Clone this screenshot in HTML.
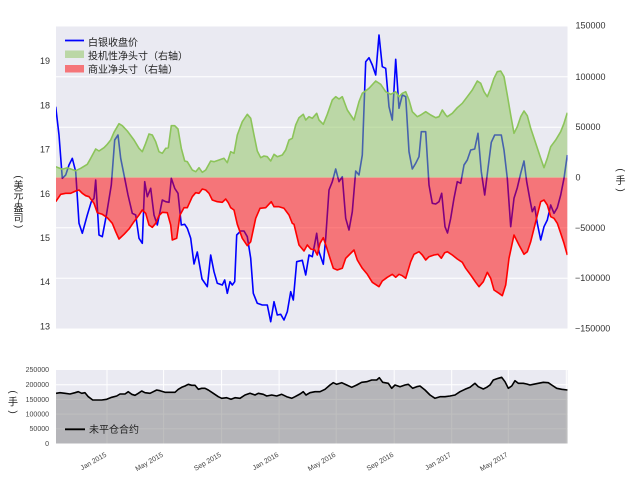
<!DOCTYPE html>
<html>
<head>
<meta charset="utf-8">
<style>
html,body{margin:0;padding:0;background:#fff;}
svg{display:block;}
text{font-family:"Liberation Sans","Noto Sans CJK SC",sans-serif;}
</style>
</head>
<body>
<svg width="640" height="497" viewBox="0 0 640 497" xmlns="http://www.w3.org/2000/svg">
<defs>
<clipPath id="cTop"><rect x="56" y="26.5" width="511.5" height="302"/></clipPath>
<clipPath id="cBot"><rect x="56" y="370" width="511.5" height="73.5"/></clipPath>
</defs>
<rect x="0" y="0" width="640" height="497" fill="#fff"/>

<!-- TOP CHART -->
<rect x="56" y="26.5" width="511.5" height="302" fill="#EAEAF2"/>
<g stroke="#fff" stroke-width="1">
<line x1="56" x2="567.5" y1="76.8" y2="76.8"/>
<line x1="56" x2="567.5" y1="127.2" y2="127.2"/>
<line x1="56" x2="567.5" y1="177.5" y2="177.5"/>
<line x1="56" x2="567.5" y1="227.8" y2="227.8"/>
<line x1="56" x2="567.5" y1="278.2" y2="278.2"/>
</g>
<g clip-path="url(#cTop)">
<!-- blue silver price -->
<polyline fill="none" stroke="#0000ff" stroke-width="1.6" stroke-linejoin="round" points="55.7,106.7 59,135 62.3,178.3 65.7,175 69,165 72.3,158.3 75.7,171.7 79,223.3 82.3,233.3 87.3,215 91.3,201.7 94,198.3 95.7,180 99,235 102.3,236.7 106.7,213.3 111.3,185 114.7,140 118,135 120.7,158.3 124.7,178.3 128,195 132.3,213.3 135.7,215 139,238.3 142.3,243.3 144.7,181.7 147.3,196.7 150.7,188.3 154,215 157.3,225 160,211.7 162.3,200 165.7,201.7 169,202.3 171.3,178.3 174.7,188.3 178,193.3 181.3,225 184.7,224.3 187.3,228.3 190.7,238.3 194,264 197.3,252 202,279 207.3,286.7 210.7,255 214,271.7 217.3,283.3 222.3,285 224.7,280 227.3,293.3 230,281.7 232.3,285 234.7,281.7 236.7,235 240.7,231 244,231 247.3,236.7 250.7,258.3 253.3,293.3 257.3,303.3 262.3,305 267.3,305 270.7,321.7 274,301.7 277.3,315 280.7,314.3 284,320 287.3,311.7 290.7,291.7 293.3,300 296.7,261.7 302.3,260.3 305.7,275 309,255 312.3,256.7 316.7,233.3 319,251.7 323.3,264.3 325.7,238.3 329,190 332.3,181.7 335.7,169 339,181.7 342.3,176.7 345.7,218.3 349,230 352.3,211.7 355.7,171 359,175 362.3,155 365.7,61.7 369,57.7 372.3,65 375.7,75 379,35 382.3,66.7 385.7,68.3 389,106.7 392.3,120 395.7,59.3 399,108.3 402.3,95 405.7,96.7 409,151.7 412.3,169 415.7,163.3 419,156.7 421.3,131.7 425.7,131.7 429,185 432.3,203.3 435.7,204 439,201.7 441.7,193.3 445,226.7 447.5,233 450.7,218.3 454,198.3 457.3,181.7 460.7,183.3 464,165 467.3,160 470.7,150 474.7,149 478,133.3 481.3,171.7 484.7,195 488,168.3 491.3,142.3 494.7,135 501.3,135 504,150 507.3,178.3 510.7,226.7 514,198.3 517.3,187.7 520.7,173.3 524,161 526.7,181.7 530,200 532.3,211.7 534.7,206.7 537.3,223.3 540.7,240 544,226.7 547.3,220 550.7,205 554,213.3 557.3,207.7 560.7,195 564,178.3 567.3,155"/>
<!-- green fill -->
<polygon fill="rgb(140,196,90)" fill-opacity="0.5" points="55.7,177.5 55.7,166.7 62.3,169.3 67.3,167.7 75.7,170.7 80.7,168.3 87.3,164.3 90.7,158.3 95.7,149 99,151 104,147.7 107.3,144.3 110.7,140 114,132.3 119,123.7 122.3,125.7 127.3,131 134,140 139,148.3 142.3,151.7 145.7,143.3 149,134 152.3,135 155.7,141.7 159,151.7 162.3,153.3 165.7,148.3 168.3,147.7 171.3,125.7 174.7,125.7 178,129 181.3,148.3 184.7,161 187.3,161.7 192.3,170 195.7,171.7 199,167.7 202.3,172.3 205.7,170 210.7,161 214,161.7 219,160 224,158.3 227.3,162.7 230.7,151.7 234,153.3 237.3,135 242.3,121.7 247.3,114.3 250.7,118.3 254,135 257.3,151 260.7,157.7 264,156 267.3,156.7 270.7,161 274,154.3 277.3,156.7 282.3,155 285.7,150 289,140 292.3,138.3 295.7,125 299,117.7 303.3,114.3 305.7,120 309,116.7 312.3,118.3 316.7,113.3 319,120 323.3,124.3 327.3,114.3 332.3,100 335.7,96.7 339,99 342.3,96.7 347.3,110 354,120 359,101.7 362.3,93.3 369,88.3 375.7,81 380.7,84.3 385.7,91.7 390.7,94.3 395.7,91.7 399,96.7 402.3,93.3 405.7,91.7 409,100 412.3,111.7 417.3,116.7 420.7,115 425.7,111.7 430.7,115 435.7,117.7 439,116.7 442.3,110 445.7,115 447.3,116.7 452.3,113.3 457.3,107.7 462.3,103.3 467.3,96.7 472.3,90 477.3,81 480.7,83.3 484,91.7 487.3,96.7 490.7,88.3 494,78.3 497.3,71.7 500.7,71 504,76.7 507.3,95 510.7,115 514,133.3 517.3,126.7 520.7,116.7 524,111 527.3,115.7 530.7,128.3 535.7,143.3 540.7,158.3 544,167.7 547.3,158.3 550.7,146.7 555.7,140 560.7,131.7 564,123.3 567.3,112.7 567.3,177.5"/>
<!-- red fill -->
<polygon fill="#ff0000" fill-opacity="0.5" points="55.7,177.5 55.7,201.7 60.7,194.3 65.7,193.3 70.7,193.3 75.7,191 79,190 82.3,193.3 85.7,195.7 89,196.7 94,203.3 97.3,212.7 102.3,214.3 107.3,217.7 112.3,223.3 115.7,231.7 119,239 124,234.3 129,229 134,221.7 139,215 142.3,210 145.7,213.3 149,225 152.3,227.3 155.7,223.3 159,215.7 162.3,212.3 167.3,212.7 170.7,225 172.3,240 176.7,238.3 180,215 184,207.7 187.3,207.7 192.3,196.7 195.7,192.7 199,193.3 202.3,189 205.7,190 209,193.3 212.3,200 217.3,201.7 222.3,202.3 225.7,199 228.3,202.7 230.7,207.7 234,210 237.3,224.3 242.3,238.3 247.3,245.7 250.7,241.7 255.7,218.3 260,208.3 265.7,207.7 271.3,201.7 274,206.7 279,206.7 284,208.3 289,215 292.3,223.3 294,224.3 299,245 304,251 307.3,245 310.7,249 314.7,250 317.3,255 320,243.3 323.3,237.7 326.7,247.7 330,258.3 333.3,268.3 337.3,270 342.3,268.3 345.7,258.3 349,255 354,250 357.3,260 362.3,268.3 367.3,274.3 372.3,282.3 379,286.7 382.3,281 387.3,277.3 392.3,274.3 395.7,277.3 399,274.3 402.3,275.7 405.7,278.3 410.7,261.7 414,254.3 419,251.7 422.3,255 425.7,260 429,256.7 434,255 438,254.3 441.3,258.3 444.7,252.7 447.3,251.7 452.3,255 457.3,259 462.3,262.3 465.7,268.3 470.7,275 475.7,282.3 479,286.7 483.3,281.7 487.3,272.3 490.7,278.3 494,290 499,293.3 502.3,295.7 505.7,285 509,258.3 514,235 519,245 524,254.3 527.3,251.7 530.7,241.7 535.7,221.7 540.7,201.7 544,200 547.3,205 550.7,216.7 554,218.3 557.3,223.3 560.7,233.3 564,243.3 567.3,255 567.3,177.5"/>
<!-- red line -->
<polyline fill="none" stroke="#ff0000" stroke-width="1.6" stroke-linejoin="round" points="55.7,201.7 60.7,194.3 65.7,193.3 70.7,193.3 75.7,191 79,190 82.3,193.3 85.7,195.7 89,196.7 94,203.3 97.3,212.7 102.3,214.3 107.3,217.7 112.3,223.3 115.7,231.7 119,239 124,234.3 129,229 134,221.7 139,215 142.3,210 145.7,213.3 149,225 152.3,227.3 155.7,223.3 159,215.7 162.3,212.3 167.3,212.7 170.7,225 172.3,240 176.7,238.3 180,215 184,207.7 187.3,207.7 192.3,196.7 195.7,192.7 199,193.3 202.3,189 205.7,190 209,193.3 212.3,200 217.3,201.7 222.3,202.3 225.7,199 228.3,202.7 230.7,207.7 234,210 237.3,224.3 242.3,238.3 247.3,245.7 250.7,241.7 255.7,218.3 260,208.3 265.7,207.7 271.3,201.7 274,206.7 279,206.7 284,208.3 289,215 292.3,223.3 294,224.3 299,245 304,251 307.3,245 310.7,249 314.7,250 317.3,255 320,243.3 323.3,237.7 326.7,247.7 330,258.3 333.3,268.3 337.3,270 342.3,268.3 345.7,258.3 349,255 354,250 357.3,260 362.3,268.3 367.3,274.3 372.3,282.3 379,286.7 382.3,281 387.3,277.3 392.3,274.3 395.7,277.3 399,274.3 402.3,275.7 405.7,278.3 410.7,261.7 414,254.3 419,251.7 422.3,255 425.7,260 429,256.7 434,255 438,254.3 441.3,258.3 444.7,252.7 447.3,251.7 452.3,255 457.3,259 462.3,262.3 465.7,268.3 470.7,275 475.7,282.3 479,286.7 483.3,281.7 487.3,272.3 490.7,278.3 494,290 499,293.3 502.3,295.7 505.7,285 509,258.3 514,235 519,245 524,254.3 527.3,251.7 530.7,241.7 535.7,221.7 540.7,201.7 544,200 547.3,205 550.7,216.7 554,218.3 557.3,223.3 560.7,233.3 564,243.3 567.3,255"/>
<!-- green line -->
<polyline fill="none" stroke="rgb(140,196,90)" stroke-width="1.6" stroke-linejoin="round" points="55.7,166.7 62.3,169.3 67.3,167.7 75.7,170.7 80.7,168.3 87.3,164.3 90.7,158.3 95.7,149 99,151 104,147.7 107.3,144.3 110.7,140 114,132.3 119,123.7 122.3,125.7 127.3,131 134,140 139,148.3 142.3,151.7 145.7,143.3 149,134 152.3,135 155.7,141.7 159,151.7 162.3,153.3 165.7,148.3 168.3,147.7 171.3,125.7 174.7,125.7 178,129 181.3,148.3 184.7,161 187.3,161.7 192.3,170 195.7,171.7 199,167.7 202.3,172.3 205.7,170 210.7,161 214,161.7 219,160 224,158.3 227.3,162.7 230.7,151.7 234,153.3 237.3,135 242.3,121.7 247.3,114.3 250.7,118.3 254,135 257.3,151 260.7,157.7 264,156 267.3,156.7 270.7,161 274,154.3 277.3,156.7 282.3,155 285.7,150 289,140 292.3,138.3 295.7,125 299,117.7 303.3,114.3 305.7,120 309,116.7 312.3,118.3 316.7,113.3 319,120 323.3,124.3 327.3,114.3 332.3,100 335.7,96.7 339,99 342.3,96.7 347.3,110 354,120 359,101.7 362.3,93.3 369,88.3 375.7,81 380.7,84.3 385.7,91.7 390.7,94.3 395.7,91.7 399,96.7 402.3,93.3 405.7,91.7 409,100 412.3,111.7 417.3,116.7 420.7,115 425.7,111.7 430.7,115 435.7,117.7 439,116.7 442.3,110 445.7,115 447.3,116.7 452.3,113.3 457.3,107.7 462.3,103.3 467.3,96.7 472.3,90 477.3,81 480.7,83.3 484,91.7 487.3,96.7 490.7,88.3 494,78.3 497.3,71.7 500.7,71 504,76.7 507.3,95 510.7,115 514,133.3 517.3,126.7 520.7,116.7 524,111 527.3,115.7 530.7,128.3 535.7,143.3 540.7,158.3 544,167.7 547.3,158.3 550.7,146.7 555.7,140 560.7,131.7 564,123.3 567.3,112.7"/>
</g>

<!-- legend top -->
<line x1="65" x2="84" y1="40.5" y2="40.5" stroke="#0000ff" stroke-width="1.8"/>
<text x="88" y="46" font-size="10" fill="#222">白银收盘价</text>
<rect x="65" y="50.5" width="19" height="7.5" fill="rgb(140,196,90)" fill-opacity="0.5"/>
<text x="88" y="59.3" font-size="10" fill="#222">投机性净头寸（右轴）</text>
<rect x="65" y="65" width="19" height="7.5" fill="#ff0000" fill-opacity="0.5"/>
<text x="88" y="73" font-size="10" fill="#222">商业净头寸（右轴）</text>

<!-- left ticks -->
<g font-size="9" fill="#333" text-anchor="end">
<text x="50" y="64.2">19</text>
<text x="50" y="108.5">18</text>
<text x="50" y="152.7">17</text>
<text x="50" y="196.8">16</text>
<text x="50" y="241">15</text>
<text x="50" y="285.2">14</text>
<text x="50" y="329.5">13</text>
</g>
<!-- right ticks -->
<g font-size="9" fill="#333">
<text x="575.5" y="28.5">150000</text>
<text x="575.5" y="79.8">100000</text>
<text x="575.5" y="130.2">50000</text>
<text x="575.5" y="180.5">0</text>
<text x="575" y="230.8">−50000</text>
<text x="575" y="281.2">−100000</text>
<text x="575" y="331.5">−150000</text>
</g>

<!-- left y label vertical -->
<g font-size="10" fill="#222" text-anchor="middle">
<text x="18.5" y="180" transform="rotate(90 18.5 177)">(</text>
<text x="18.5" y="188.8">美</text>
<text x="18.5" y="198.3">元</text>
<text x="18.5" y="204.5" font-size="8">/</text>
<text x="18.5" y="211.3">盎</text>
<text x="18.5" y="221.3">司</text>
<text x="18.5" y="229.5" transform="rotate(90 18.5 226.5)">)</text>
</g>
<!-- right y label vertical -->
<g font-size="10" fill="#222" text-anchor="middle">
<text x="620.5" y="173" transform="rotate(90 620.5 170)">(</text>
<text x="620.5" y="183.8">手</text>
<text x="620.5" y="193" transform="rotate(90 620.5 190)">)</text>
</g>

<!-- BOTTOM CHART -->
<rect x="56" y="370" width="511.5" height="73.5" fill="#EAEAF2"/>
<g stroke="#fff" stroke-width="1">
<line x1="56" x2="567.5" y1="384.7" y2="384.7"/>
<line x1="56" x2="567.5" y1="399.4" y2="399.4"/>
<line x1="56" x2="567.5" y1="414.1" y2="414.1"/>
<line x1="56" x2="567.5" y1="428.8" y2="428.8"/>
<line x1="107" x2="107" y1="370" y2="443.5"/>
<line x1="163.6" x2="163.6" y1="370" y2="443.5"/>
<line x1="221.6" x2="221.6" y1="370" y2="443.5"/>
<line x1="279.1" x2="279.1" y1="370" y2="443.5"/>
<line x1="336.2" x2="336.2" y1="370" y2="443.5"/>
<line x1="394.2" x2="394.2" y1="370" y2="443.5"/>
<line x1="451.7" x2="451.7" y1="370" y2="443.5"/>
<line x1="508.3" x2="508.3" y1="370" y2="443.5"/>
<line x1="566.3" x2="566.3" y1="370" y2="443.5"/>
</g>
<g clip-path="url(#cBot)">
<polygon fill="#808080" fill-opacity="0.5" points="56,443.5 56,393.3 60,392.7 65,393.3 70,394 75,392.7 78.3,391.7 81.7,393.3 85,392.7 88.3,396.7 92.7,400 96.7,400 101.7,400 106.7,399.3 111.7,397.3 116.7,396 120,394 125,394 128.3,391.7 131.7,394.3 135,395.3 138.3,393.3 141.7,391 145,392.7 150,393.3 153.3,391.7 156.7,390 160,390.7 165,392.3 170,392.3 175,392.3 178.3,389.3 181.7,387.3 185,386 188.3,384.3 191.7,385.3 195,385.3 198.3,389.3 201.7,388.3 205,388.3 208.3,390 213.3,393.3 218.3,396.7 221.7,398.3 226.7,397.7 231,399.3 235,397.7 240,398.3 245,395 250,393.3 255,395 258.3,393.3 263.3,394.3 266.7,396 271.7,395 276.7,396 281.7,394.3 286.7,396.7 291.7,398.3 295,396.7 300,394 303.3,391.7 306,395 310,392.7 315,391.7 320,391.7 325,389.3 330,385 333.3,382.7 336.7,384.3 341.7,382.7 346.7,385 351.7,387.3 356.7,385 361.7,382.3 366.7,381.7 371.7,380 376.7,380 379.3,377.7 382.7,382.3 388.3,383.3 391.7,388.3 395,385 400,386.7 405,385 408.3,384.3 412.7,388.3 416.7,386.7 420,386 425,390 430,395 435,398.3 440,396.7 445,396.7 450,396 455,395 460,391.7 465,389.3 470,387.3 475,383.3 478.3,386.7 483.3,389 486.7,387.3 490,385 493.3,380 498.3,378.3 501.7,377.3 505,381.7 508.3,388.3 511.7,386 515,380.7 518.3,383.3 523.3,383.3 526.7,384 530,385 533.3,384.3 538.3,383.3 543.3,382.3 548.3,382.7 551.7,385 556.7,388.3 561.7,389.3 567.5,390 567.5,443.5"/>
<polyline fill="none" stroke="#000" stroke-width="1.6" stroke-linejoin="round" points="56,393.3 60,392.7 65,393.3 70,394 75,392.7 78.3,391.7 81.7,393.3 85,392.7 88.3,396.7 92.7,400 96.7,400 101.7,400 106.7,399.3 111.7,397.3 116.7,396 120,394 125,394 128.3,391.7 131.7,394.3 135,395.3 138.3,393.3 141.7,391 145,392.7 150,393.3 153.3,391.7 156.7,390 160,390.7 165,392.3 170,392.3 175,392.3 178.3,389.3 181.7,387.3 185,386 188.3,384.3 191.7,385.3 195,385.3 198.3,389.3 201.7,388.3 205,388.3 208.3,390 213.3,393.3 218.3,396.7 221.7,398.3 226.7,397.7 231,399.3 235,397.7 240,398.3 245,395 250,393.3 255,395 258.3,393.3 263.3,394.3 266.7,396 271.7,395 276.7,396 281.7,394.3 286.7,396.7 291.7,398.3 295,396.7 300,394 303.3,391.7 306,395 310,392.7 315,391.7 320,391.7 325,389.3 330,385 333.3,382.7 336.7,384.3 341.7,382.7 346.7,385 351.7,387.3 356.7,385 361.7,382.3 366.7,381.7 371.7,380 376.7,380 379.3,377.7 382.7,382.3 388.3,383.3 391.7,388.3 395,385 400,386.7 405,385 408.3,384.3 412.7,388.3 416.7,386.7 420,386 425,390 430,395 435,398.3 440,396.7 445,396.7 450,396 455,395 460,391.7 465,389.3 470,387.3 475,383.3 478.3,386.7 483.3,389 486.7,387.3 490,385 493.3,380 498.3,378.3 501.7,377.3 505,381.7 508.3,388.3 511.7,386 515,380.7 518.3,383.3 523.3,383.3 526.7,384 530,385 533.3,384.3 538.3,383.3 543.3,382.3 548.3,382.7 551.7,385 556.7,388.3 561.7,389.3 567.5,390"/>
</g>

<!-- bottom legend -->
<line x1="65" x2="85" y1="429.3" y2="429.3" stroke="#000" stroke-width="1.8"/>
<text x="89" y="433" font-size="10" fill="#222">未平仓合约</text>

<!-- bottom y ticks -->
<g font-size="7" fill="#444" text-anchor="end">
<text x="49" y="371.8">250000</text>
<text x="49" y="386.8">200000</text>
<text x="49" y="401.8">150000</text>
<text x="49" y="416.3">100000</text>
<text x="49" y="431.2">50000</text>
<text x="49" y="445.8">0</text>
</g>
<!-- bottom y label -->
<g font-size="10" fill="#222" text-anchor="middle">
<text x="13" y="395" transform="rotate(90 13 392)">(</text>
<text x="13" y="405.5">手</text>
<text x="13" y="415" transform="rotate(90 13 412)">)</text>
</g>

<!-- bottom x ticks -->
<g font-size="7" fill="#444" text-anchor="end">
<text x="107" y="456" transform="rotate(-30 107 456)">Jan 2015</text>
<text x="163.6" y="456" transform="rotate(-30 163.6 456)">May 2015</text>
<text x="221.6" y="456" transform="rotate(-30 221.6 456)">Sep 2015</text>
<text x="279.1" y="456" transform="rotate(-30 279.1 456)">Jan 2016</text>
<text x="336.2" y="456" transform="rotate(-30 336.2 456)">May 2016</text>
<text x="394.2" y="456" transform="rotate(-30 394.2 456)">Sep 2016</text>
<text x="451.7" y="456" transform="rotate(-30 451.7 456)">Jan 2017</text>
<text x="508.3" y="456" transform="rotate(-30 508.3 456)">May 2017</text>
</g>
</svg>
</body>
</html>
